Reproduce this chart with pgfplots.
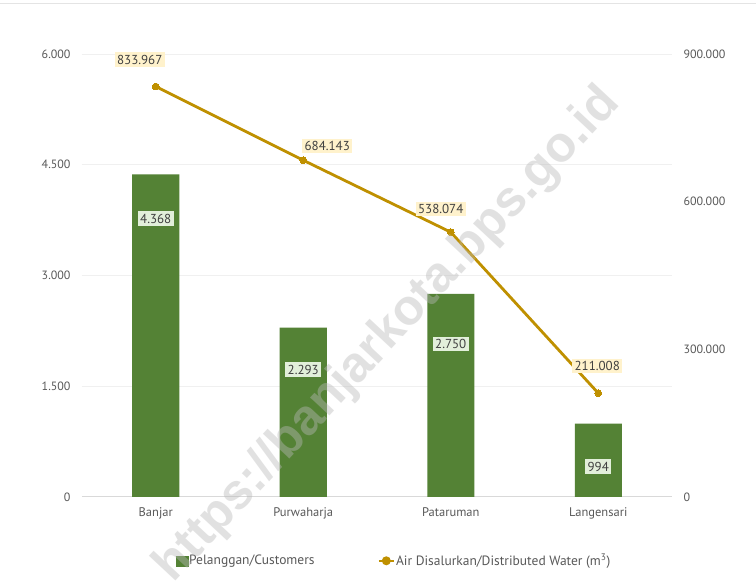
\documentclass[border=0pt]{standalone}
\usepackage{pgfplots}
\pgfplotsset{compat=1.18}
\usepackage{pgfplotstable}
\usepackage{fontspec}
\setmainfont{PT Sans}
\newfontfamily\wmfont{Liberation Sans}
\definecolor{barg}{HTML}{548235}
\definecolor{lineg}{HTML}{BF9000}
\definecolor{txt}{HTML}{595959}
\definecolor{txtd}{HTML}{404040}
\definecolor{gridc}{HTML}{F0F0F0}
\definecolor{basec}{HTML}{D9D9D9}
\definecolor{blab}{HTML}{E2EFDA}
\definecolor{llab}{HTML}{FFF2CC}

\pgfplotstableread{
x y lab dy
0 4368 4.368 -44
1 2293 2.293 -42
2 2750 2.750 -50
3 994 994 -43
}\bars
\pgfplotstableread{
x y lab dx dy
0 833967 833.967 -16 27
1 684143 684.143 24 14
2 538074 538.074 -10 23
3 211008 211.008 -1 27
}\water

\begin{document}
\begin{tikzpicture}[x=1pt,y=1pt]
\useasboundingbox (0,0) rectangle (756,582);
\fill[white] (0,0) rectangle (756,582);
\draw[color=basec!70, line width=1pt] (0,578) -- (756,578);
\begin{axis}[
  at={(82pt,85pt)}, anchor=south west, scale only axis,
  width=590pt, height=443pt,
  xmin=-0.5, xmax=3.5, ymin=0, ymax=6000,
  xtick={0,1,2,3}, xticklabels={Banjar,Purwaharja,Pataruman,Langensari},
  ytick={1500,3000,4500,6000},
  extra y ticks={0},
  extra y tick style={grid style={draw=basec, line width=1pt}},
  ymajorgrids, grid style={draw=gridc, line width=0.8pt},
  axis line style={draw=none}, major tick length=0pt,
  scaled y ticks=false,
  /pgf/number format/fixed,
  /pgf/number format/1000 sep={.},
  /pgf/number format/assume math mode=true,
  tick label style={font=\fontsize{12}{14}\selectfont, text=txt},
  yticklabel style={xshift=-8pt},
  xticklabel style={yshift=-7pt, font=\fontsize{12.5}{14}\selectfont},
  clip=false,
]
\addplot[ybar, bar width=47pt, fill=barg, draw=none,
  nodes near coords, point meta=explicit symbolic,
  visualization depends on={\thisrow{dy}\as\dy},
  nodes near coords style={anchor=center, yshift=\dy pt, fill=blab, text=txtd,
    font=\fontsize{13}{15}\selectfont, inner sep=2.5pt}]
  table[x=x,y=y,meta=lab]{\bars};
\end{axis}
\begin{axis}[
  at={(82pt,85pt)}, anchor=south west, scale only axis,
  width=590pt, height=443pt,
  xmin=-0.5, xmax=3.5, ymin=0, ymax=900000,
  xtick=\empty,
  ytick={0,300000,600000,900000},
  yticklabel pos=right,
  axis line style={draw=none}, major tick length=0pt,
  scaled y ticks=false,
  /pgf/number format/fixed,
  /pgf/number format/1000 sep={.},
  /pgf/number format/assume math mode=true,
  tick label style={font=\fontsize{12}{14}\selectfont, text=txt},
  yticklabel style={xshift=8pt},
  clip=false,
  legend columns=2,
  legend style={draw=none, fill=none, at={(0.528,-0.144)}, anchor=center,
    font=\fontsize{13.5}{16}\selectfont, text=txt,
    /tikz/every even column/.append style={column sep=62pt},
    /tikz/every odd column/.append style={column sep=0pt},
    nodes={inner xsep=1pt}},
  legend cell align=left,
]
\addlegendimage{legend image code/.code={\fill[barg] (0pt,-5pt) rectangle (12pt,5pt);}}
\addlegendentry{Pelanggan/Customers}
\addplot[color=lineg, line width=2.8pt, mark=*, mark size=3.4pt,
  mark options={fill=lineg, draw=lineg, line width=0pt},
  legend image code/.code={\draw[lineg, line width=2.5pt] (0pt,0pt) -- (15pt,0pt); \fill[lineg] (7.5pt,0pt) circle (3pt);},
  nodes near coords, point meta=explicit symbolic,
  visualization depends on={\thisrow{dx}\as\dx},
  visualization depends on={\thisrow{dy}\as\dy},
  nodes near coords style={anchor=center, xshift=\dx pt, yshift=\dy pt, fill=llab, text=txtd,
    font=\fontsize{13}{15}\selectfont, inner sep=2.5pt}]
  table[x=x,y=y,meta=lab]{\water};
\addlegendentry{Air Disalurkan/Distributed Water (m\textsuperscript{3})}
\end{axis}
\node[rotate=47, text={rgb,255:red,185;green,185;blue,185}, opacity=0.42,
  font=\wmfont\bfseries\fontsize{50}{56}\selectfont] at (388,247) {https://banjarkota.bps.go.id};
\end{tikzpicture}
\end{document}
